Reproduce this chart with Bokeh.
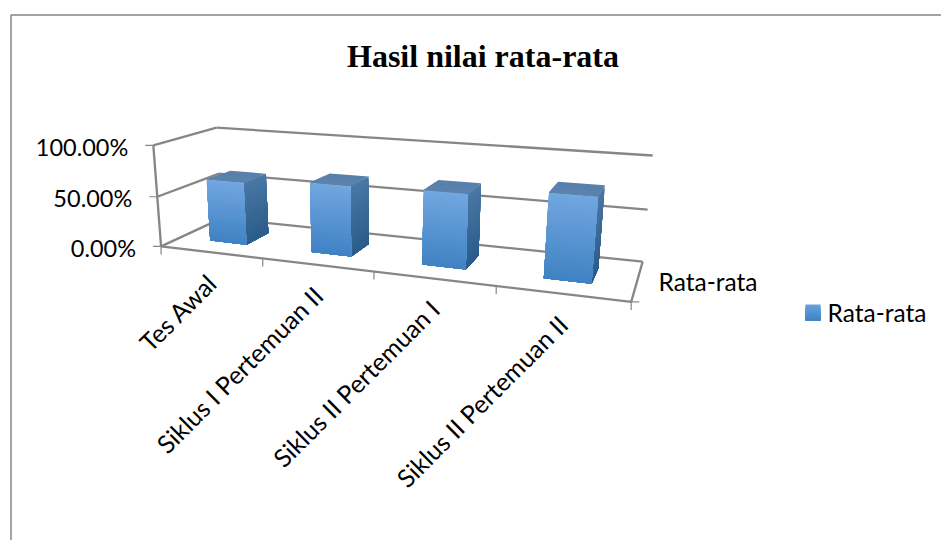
import numpy as np
from bokeh.plotting import figure
from bokeh.models import Range1d
from bokeh.core.properties import value
from bokeh.embed import file_html
from bokeh.resources import INLINE

# Chart content
title = "Hasil nilai rata-rata"
series_name = "Rata-rata"
categories = ["Tes Awal", "Siklus I Pertemuan II", "Siklus II Pertemuan I", "Siklus II Pertemuan II"]
values = [62.5, 68.0, 70.0, 77.0]
value_ticks = [0.0, 50.0, 100.0]
value_labels = ["0.00%", "50.00%", "100.00%"]

# Camera: box coordinates (across, value share, depth) and where they land on the page
BOX = [(0, 0, 0), (0, .5, 0), (0, 1, 0), (1, 0, 0), (0, 0, 1), (0, .5, 1), (0, 1, 1), (1, 0, 1), (1, .5, 1), (1, 1, 1)]
PAGE = [(160.5, 245.7), (157, 196), (152.7, 145), (630.7, 301.7), (221, 218.5), (218.5, 172.6), (216, 127.3),
        (641.7, 260.7), (648, 209.3), (651.7, 155)]

GREY = "#868686"
BAR_HALF = 0.046
BAR_SHIFT = -0.002
DEPTH_NEAR, DEPTH_FAR = 0.3, 0.7


def fit_camera(box, page):
    rows, rhs = [], []
    for (x, y, z), (u, v) in zip(box, page):
        rows.append([x, y, z, 1, 0, 0, 0, 0, -u * x, -u * y, -u * z])
        rhs.append(u)
        rows.append([0, 0, 0, 0, x, y, z, 1, -v * x, -v * y, -v * z])
        rhs.append(v)
    sol = np.linalg.lstsq(np.array(rows, float), np.array(rhs, float), rcond=None)[0]
    return np.append(sol, 1.0).reshape(3, 4)


CAMERA = fit_camera(BOX, PAGE)


def project(x, v, d):
    """Category share x, percentage v, depth share d to page pixels."""
    h = CAMERA @ np.array([x, v / 100.0, d, 1.0])
    return h[0] / h[2], h[1] / h[2]


def mix(a, b, t):
    ca = [int(a[i:i + 2], 16) for i in (1, 3, 5)]
    cb = [int(b[i:i + 2], 16) for i in (1, 3, 5)]
    return "#%02x%02x%02x" % tuple(round(p + (q - p) * t) for p, q in zip(ca, cb))


p = figure(width=941, height=540, output_backend="svg", toolbar_location=None,
           x_range=Range1d(0, 941), y_range=Range1d(540, 0),
           x_axis_type=None, y_axis_type=None, min_border=0,
           outline_line_color=None, background_fill_color="white", border_fill_color="white")
p.grid.visible = False


def segment(a, b, width=2.3, color=GREY):
    p.line([a[0], b[0]], [a[1], b[1]], line_color=color, line_width=width)


# Outer chart border, open at the bottom and right
p.line([10.5, 10.5, 941], [540, 14.5, 14.5], line_color=GREY, line_width=1.5)

# Walls and floor
for t in value_ticks:
    segment(project(0, t, 0), project(0, t, 1))
    segment(project(0, t, 1), project(1, t, 1))
    segment(project(0, t, 0), (project(0, t, 0)[0] - 8, project(0, t, 0)[1]), 1.2)
segment(project(0, 0, 0), project(0, 100, 0))
segment(project(0, 0, 0), project(1, 0, 0))
segment(project(1, 0, 0), project(1, 0, 1))
end = project(1, 0, 0)
segment(end, (end[0] + 8, end[1]), 1.2)
for i in range(len(categories) + 1):
    q = project(i / len(categories), 0, 0)
    segment(q, (q[0], q[1] + 8), 1.2)


# A face is painted as overlapping bands, each running to the bottom edge, so it shades downward
def shaded_face(corner, top_color, bottom_color, steps=28):
    xs, ys, cols = [], [], []
    tl, tr, br, bl = corner
    for k in range(steps):
        a = k / steps
        xs.append([tl[0] + (bl[0] - tl[0]) * a, tr[0] + (br[0] - tr[0]) * a, br[0], bl[0]])
        ys.append([tl[1] + (bl[1] - tl[1]) * a, tr[1] + (br[1] - tr[1]) * a, br[1], bl[1]])
        cols.append(mix(top_color, bottom_color, (k + 0.5) / steps))
    p.patches(xs, ys, fill_color=cols, line_color=None)


n = len(categories)
for i, val in enumerate(values):
    left = (i + 0.5) / n - BAR_HALF + BAR_SHIFT
    right = (i + 0.5) / n + BAR_HALF + BAR_SHIFT
    shaded_face([project(right, val, DEPTH_NEAR), project(right, val, DEPTH_FAR),
                 project(right, 0, DEPTH_FAR), project(right, 0, DEPTH_NEAR)], "#4a78a6", "#2b5b8a")
    shaded_face([project(left, val, DEPTH_FAR), project(right, val, DEPTH_FAR),
                 project(right, val, DEPTH_NEAR), project(left, val, DEPTH_NEAR)], "#577fa9", "#5a83ae", 4)
    shaded_face([project(left, val, DEPTH_NEAR), project(right, val, DEPTH_NEAR),
                 project(right, 0, DEPTH_NEAR), project(left, 0, DEPTH_NEAR)], "#72a7df", "#3f82c4")

FONT = value("Lato")
p.text([482.5], [55.5], text=[title], text_font=value("Liberation Serif"), text_font_style="bold",
       text_font_size="32px", text_color="black", text_align="center", text_baseline="middle")

for t, lab in zip(value_ticks, value_labels):
    q = project(0, t, 0)
    p.text([q[0] - 25], [q[1] + 1.5], text=[lab], text_font=FONT, text_font_size="23.5px", text_color="black",
           text_align="right", text_baseline="middle")

for i, lab in enumerate(categories):
    q = project((i + 0.5) / n, 0, 0)
    p.text([q[0] + 1], [q[1] + 26], text=[lab], text_font=FONT, text_font_size="25px", text_color="black",
           text_align="right", text_baseline="middle", angle=np.pi / 4)

p.text([658], [281], text=[series_name], text_font=FONT, text_font_size="24.5px", text_color="black",
       text_align="left", text_baseline="middle")

# Legend
shaded_face([(805, 304), (820, 304), (820, 320), (805, 320)], "#6ba2dc", "#3f82c4", 10)
p.text([827], [311.5], text=[series_name], text_font=FONT, text_font_size="24.5px", text_color="black",
       text_align="left", text_baseline="middle")

open("out.html", "w").write(file_html(p, INLINE))
